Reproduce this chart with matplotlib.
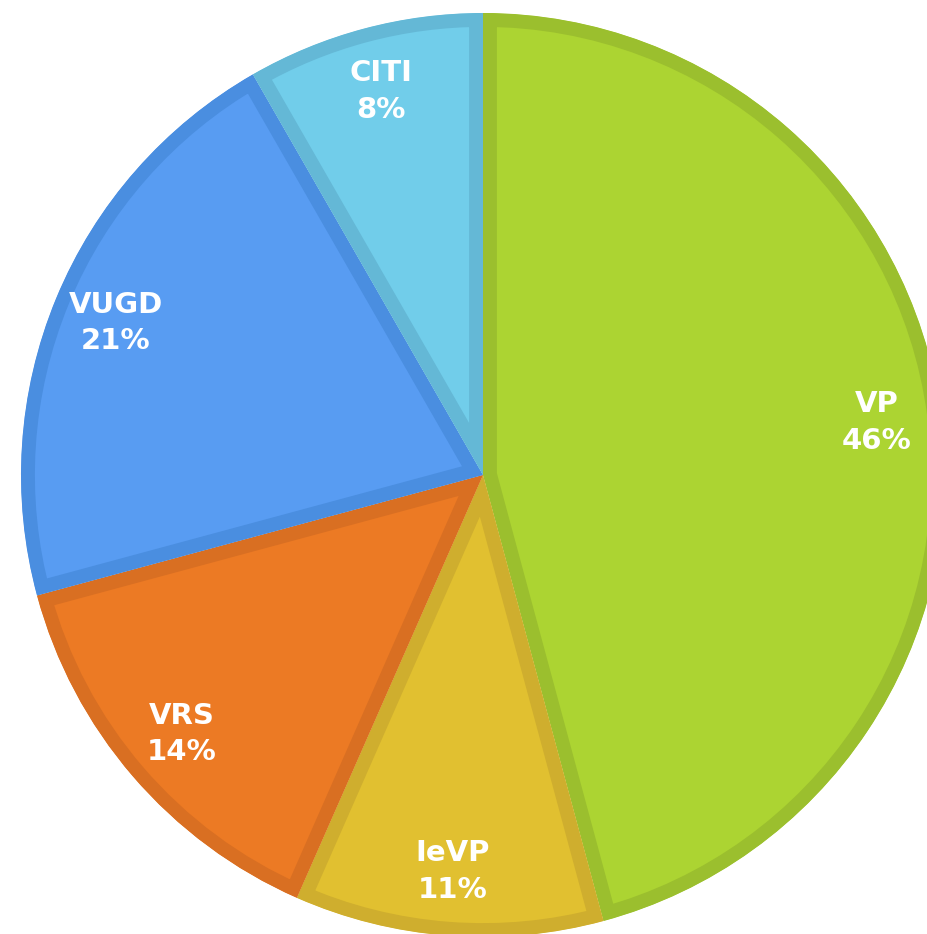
import matplotlib.pyplot as plt

# slices clockwise from 12 o'clock (angles)
names = ['VP', 'IeVP', 'VRS', 'VUGD', 'CITI']
shares = [45.8, 10.8, 14.2, 20.9, 8.3]
fills = ['#acd432', '#e1c030', '#ec7a24', '#589cf2', '#71cdea']
edges = ['#9bbf2e', '#cfae2e', '#d96f22', '#4a8ee0', '#64b8d6']

W, H = 928, 934
fig = plt.figure(figsize=(W / 100, H / 100), dpi=100)
ax = fig.add_axes([0, 0, 1, 1])

cx, cy, rad = 483, H - 475, 462
labels = [n + '\n' + str(round(s)) + '%' for n, s in zip(names, shares)]
wedges, texts = ax.pie(shares, labels=labels, colors=fills, startangle=90,
                       counterclock=False, center=(cx, cy), radius=rad,
                       labeldistance=0.86, frame=True)

ax.set_xlim(0, W)
ax.set_ylim(0, H)
ax.set_aspect('equal')
ax.axis('off')

# stroke drawn inside each wedge only (clip to its own shape)
for w, ec in zip(wedges, edges):
    w.set_edgecolor(ec)
    w.set_linewidth(20)
    w.set_clip_on(True)
    w.set_clip_path(w.get_path(), w.get_transform())

for t in texts:
    t.set_ha('center')
    t.set_va('center')
    t.set_color('white')
    t.set_fontsize(21)
    t.set_fontweight('bold')
    t.set_linespacing(1.4)

fig.savefig('out.png', dpi=100)
